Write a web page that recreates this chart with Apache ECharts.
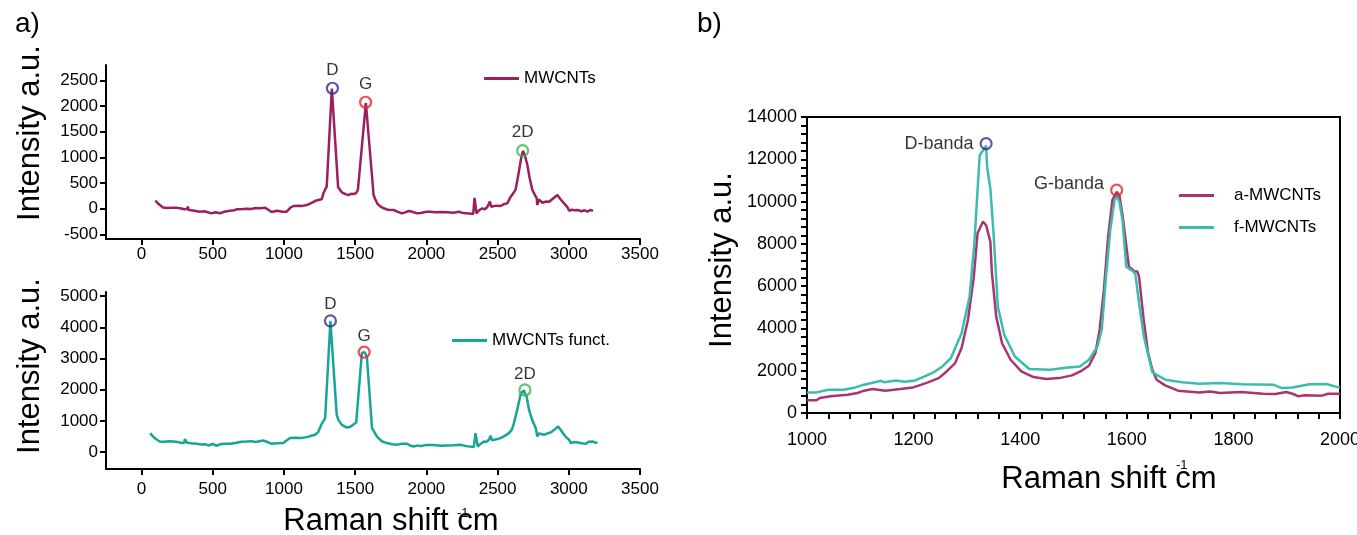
<!DOCTYPE html>
<html>
<head>
<meta charset="utf-8">
<script src="https://cdn.jsdelivr.net/npm/echarts@6/dist/echarts.min.js"></script>
<style>
  html, body { margin: 0; padding: 0; background: #fff; }
  #main { width: 1357px; height: 535px; }
</style>
</head>
<body>
<div id="main"></div>
<script>
// a) top: MWCNTs full spectrum
const topX = [96,120,150,180,210,244,270,300,318,326,330,360,408,440,470,491,520,549,580,620,650,667,700,737,770,800,835,866,890,913,950,990,1019,1045,1066,1100,1130,1160,1190,1218,1240,1265,1277,1290,1300,1336,1380,1394,1406,1418,1435,1453,1470,1488,1505,1519,1575,1629,1640,1657,1670,1680,1700,1730,1770,1800,1829,1850,1876,1900,1934,1960,2000,2028,2060,2100,2146,2190,2228,2260,2300,2329,2338,2352,2370,2392,2410,2427,2446,2455,2463,2490,2521,2545,2568,2592,2610,2627,2645,2667,2679,2690,2697,2709,2725,2744,2760,2775,2779,2790,2798,2815,2840,2862,2890,2920,2940,2967,2991,3002,3020,3040,3061,3090,3110,3131,3150,3170];
const topY = [160,90,25,15,20,20,10,-10,-5,40,-25,-35,-58,-50,-75,-90,-70,-90,-60,-40,-30,-12,-8,0,-5,15,10,20,-20,-64,-40,-60,-58,20,53,60,55,72,110,150,170,183,300,380,430,2340,420,429,320,331,280,267,290,286,300,365,2060,267,190,92,120,40,8,-20,-25,-60,-90,-70,-45,-60,-90,-85,-60,-58,-70,-65,-70,-80,-58,-85,-95,-103,210,-90,-30,8,-10,27,140,40,39,60,53,90,105,234,300,378,650,1014,1125,1050,982,852,600,365,280,203,72,180,203,117,140,136,200,267,190,105,27,-39,-20,-30,-25,-50,-30,-58,-25,-39];

// a) bottom: MWCNTs funct. full spectrum
const botX = [61,80,100,127,160,190,220,250,280,300,303,320,350,385,420,450,467,500,526,560,590,620,660,700,737,770,800,854,880,913,950,995,1020,1042,1080,1120,1160,1190,1218,1240,1254,1265,1289,1326,1370,1382,1406,1420,1441,1460,1476,1507,1547,1566,1582,1618,1635,1653,1670,1690,1723,1760,1794,1830,1864,1890,1911,1940,1960,2000,2052,2100,2146,2190,2239,2280,2333,2345,2361,2380,2404,2420,2439,2451,2460,2470,2500,2521,2550,2580,2600,2615,2640,2662,2685,2695,2704,2721,2745,2768,2779,2790,2798,2826,2850,2873,2900,2925,2945,2967,2985,3002,3014,3040,3061,3090,3120,3140,3167,3185,3202];
const botY = [607,500,420,339,330,345,339,320,300,290,415,300,280,265,240,250,211,260,201,260,270,265,290,330,339,350,320,371,330,265,280,288,380,447,460,450,479,520,553,640,658,904,1086,4200,1200,1032,872,830,786,800,840,946,3182,3200,3054,767,640,498,420,340,288,250,233,270,265,200,179,215,190,230,224,200,211,220,233,190,160,607,179,260,339,320,393,521,380,371,420,447,520,607,720,926,1400,1863,1980,1850,1776,1351,1000,767,498,600,658,553,600,626,720,818,700,553,460,393,288,320,307,280,265,330,339,300,307];

// b) zoom on D and G bands
const aX = [1000,1018,1024,1044,1076,1095,1107,1123,1147,1179,1199,1215,1227,1247,1262,1278,1290,1302,1313,1320,1330,1336,1344,1347,1355,1366,1382,1402,1425,1449,1473,1497,1513,1529,1541,1549,1557,1565,1573,1581,1586,1592,1600,1604,1615,1620,1623,1631,1640,1648,1656,1672,1696,1736,1756,1775,1815,1855,1879,1899,1911,1922,1934,1966,1978,2000];
const aY = [600,600,710,790,865,945,1055,1135,1055,1150,1210,1340,1450,1650,1965,2360,3070,4400,6450,8500,9050,8890,8100,6600,4560,3300,2520,1965,1700,1605,1650,1780,1965,2235,2830,3930,5820,8340,10070,10460,10300,9360,7710,6920,6690,6690,6450,4560,2830,2045,1575,1305,1055,975,1020,945,990,910,895,990,910,790,835,820,910,910];
const fX = [1000,1018,1040,1068,1091,1107,1139,1145,1167,1183,1203,1223,1238,1254,1270,1290,1305,1314,1320,1324,1330,1336,1338,1344,1350,1358,1370,1390,1417,1457,1481,1512,1529,1545,1553,1561,1569,1577,1581,1586,1592,1599,1612,1616,1623,1632,1648,1672,1704,1736,1775,1815,1875,1891,1911,1943,1975,1990,2000];
const fY = [975,975,1100,1100,1210,1340,1525,1450,1540,1480,1540,1760,1935,2200,2600,3775,5500,8020,10540,12190,12400,12650,11600,10620,8500,5030,3700,2675,2080,2045,2125,2200,2520,3150,3930,6450,8650,10070,10250,9990,9120,6920,6690,6580,5190,3620,1920,1575,1450,1385,1415,1355,1340,1180,1210,1355,1370,1260,1210];

// peak markers
const peakNames = ['D', 'G', '2D'];
const topPeakX = [1340, 1573, 2676];
const topPeakY = [2347, 2074, 1131];
const botPeakX = [1326, 1563, 2692];
const botPeakY = [4204, 3204, 1990];
const bandNames = ['D-banda', 'G-banda'];
const bandX = [1336, 1581];
const bandY = [12740, 10540];

const leftXTicks = [0, 500, 1000, 1500, 2000, 2500, 3000, 3500];
const topYTicks = [-500, 0, 500, 1000, 1500, 2000, 2500];
const botYTicks = [0, 1000, 2000, 3000, 4000, 5000];

const FONT = '"Liberation Sans", Arial, sans-serif';
const peakColors = ['#2b3590', '#e8262a', '#3ab54a'];

function zip(xs, ys) { return xs.map((x, i) => [x, ys[i]]); }
const plain = v => String(v);

function tick(custom) {
  var t = { show: true, length: 6, lineStyle: { color: '#000', width: 2 } };
  if (custom) t.customValues = custom;
  return t;
}
function label(size, margin, custom) {
  var l = { color: '#000', fontSize: size, fontFamily: FONT, margin: margin, formatter: plain };
  if (custom) l.customValues = custom;
  return l;
}
function axisBase(extra) {
  return Object.assign({
    type: 'value',
    splitLine: { show: false },
    axisLine: { show: true, onZero: false, lineStyle: { color: '#000', width: 2 } }
  }, extra);
}

function peakSeries(xi, yi, xs, ys, names, pos, dist, fontSize) {
  return {
    type: 'scatter', xAxisIndex: xi, yAxisIndex: yi, z: 5,
    symbol: 'circle', symbolSize: 11,
    data: xs.map((x, i) => ({
      value: [x, ys[i]], name: names[i],
      itemStyle: { color: 'rgba(0,0,0,0)', borderColor: peakColors[i], borderWidth: 2.2 }
    })),
    label: {
      show: true, position: pos, distance: dist, formatter: p => p.name,
      color: '#000', fontSize: fontSize, fontFamily: FONT
    }
  };
}

var chart = echarts.init(document.getElementById('main'), null, { renderer: 'canvas' });

var option = {
  animation: false,
  backgroundColor: '#fff',
  grid: [
    { left: 106, top: 65, width: 534, height: 174, outerBoundsMode: 'none' },
    { left: 106, top: 292, width: 534, height: 177, outerBoundsMode: 'none' },
    { left: 807, top: 117, width: 533, height: 296, outerBoundsMode: 'none',
      show: true, borderColor: '#000', borderWidth: 2 }
  ],
  xAxis: [
    axisBase({ gridIndex: 0, min: -250, max: 3500, axisTick: tick(leftXTicks), axisLabel: label(17, 7, leftXTicks) }),
    axisBase({ gridIndex: 1, min: -250, max: 3500, axisTick: tick(leftXTicks), axisLabel: label(17, 12, leftXTicks) }),
    axisBase({ gridIndex: 2, min: 1000, max: 2000, interval: 200, axisTick: tick(),
      minorTick: { show: true, splitNumber: 5, length: 6, lineStyle: { color: '#000', width: 2 } },
      axisLabel: label(18, 18) })
  ],
  yAxis: [
    axisBase({ gridIndex: 0, min: -590, max: 2800, axisTick: tick(topYTicks), axisLabel: label(17, 8, topYTicks) }),
    axisBase({ gridIndex: 1, min: -543, max: 5130, axisTick: tick(botYTicks), axisLabel: label(17, 8, botYTicks) }),
    axisBase({ gridIndex: 2, min: 0, max: 14000, interval: 2000, axisTick: tick(),
      minorTick: { show: true, splitNumber: 5, length: 6, lineStyle: { color: '#000', width: 2 } },
      axisLabel: label(18, 10) })
  ],
  legend: [
    { data: ['MWCNTs'], left: 479, top: 65, icon: 'rect', itemWidth: 35, itemHeight: 3,
      textStyle: { fontSize: 17, fontFamily: FONT, color: '#000' } },
    { data: ['MWCNTs funct.'], left: 447, top: 327, icon: 'rect', itemWidth: 35, itemHeight: 3,
      textStyle: { fontSize: 17, fontFamily: FONT, color: '#000' } },
    { data: ['a-MWCNTs', 'f-MWCNTs'], orient: 'vertical', left: 1174, top: 182, itemGap: 15,
      icon: 'rect', itemWidth: 35, itemHeight: 3,
      textStyle: { fontSize: 17, fontFamily: FONT, color: '#000', padding: [0, 0, 0, 15] } }
  ],
  series: [
    { name: 'MWCNTs', type: 'line', xAxisIndex: 0, yAxisIndex: 0, data: zip(topX, topY),
      showSymbol: false, color: '#9c1f62', lineStyle: { width: 2.5 } },
    { name: 'MWCNTs funct.', type: 'line', xAxisIndex: 1, yAxisIndex: 1, data: zip(botX, botY),
      showSymbol: false, color: '#17a597', lineStyle: { width: 2.5 } },
    { name: 'a-MWCNTs', type: 'line', xAxisIndex: 2, yAxisIndex: 2, data: zip(aX, aY),
      showSymbol: false, color: '#a8356f', lineStyle: { width: 2.5 } },
    { name: 'f-MWCNTs', type: 'line', xAxisIndex: 2, yAxisIndex: 2, data: zip(fX, fY),
      showSymbol: false, color: '#3cbcb0', lineStyle: { width: 2.5 } },
    peakSeries(0, 0, topPeakX, topPeakY, peakNames, 'top', 3, 17),
    peakSeries(1, 1, botPeakX, botPeakY, peakNames, 'top', 1, 17),
    (function () {
      var s = peakSeries(2, 2, bandX, bandY, bandNames, 'left', 6, 18);
      s.data[1].label = { offset: [0, -6] };
      return s;
    })()
  ],
  graphic: [
    { type: 'text', left: 15, top: 10, style: { text: 'a)', font: '28px ' + FONT, fill: '#000' } },
    { type: 'text', left: 697, top: 10, style: { text: 'b)', font: '28px ' + FONT, fill: '#000' } },
    { type: 'text', x: 30, y: 133, rotation: Math.PI / 2,
      style: { text: 'Intensity a.u.', font: '31px ' + FONT, fill: '#000', textAlign: 'center', textVerticalAlign: 'middle' } },
    { type: 'text', x: 30, y: 366, rotation: Math.PI / 2,
      style: { text: 'Intensity a.u.', font: '31px ' + FONT, fill: '#000', textAlign: 'center', textVerticalAlign: 'middle' } },
    { type: 'text', x: 722, y: 260, rotation: Math.PI / 2,
      style: { text: 'Intensity a.u.', font: '31px ' + FONT, fill: '#000', textAlign: 'center', textVerticalAlign: 'middle' } },
    { type: 'text', x: 391, y: 521,
      style: { text: 'Raman shift cm', font: '31px ' + FONT, fill: '#000', textAlign: 'center', textVerticalAlign: 'middle' } },
    { type: 'text', x: 457, y: 513,
      style: { text: '-1', font: '13px ' + FONT, fill: '#000', textAlign: 'left', textVerticalAlign: 'middle' } },
    { type: 'text', x: 1109, y: 479,
      style: { text: 'Raman shift cm', font: '31px ' + FONT, fill: '#000', textAlign: 'center', textVerticalAlign: 'middle' } },
    { type: 'text', x: 1176, y: 465,
      style: { text: '-1', font: '13px ' + FONT, fill: '#000', textAlign: 'left', textVerticalAlign: 'middle' } }
  ]
};

chart.setOption(option);
</script>
</body>
</html>
